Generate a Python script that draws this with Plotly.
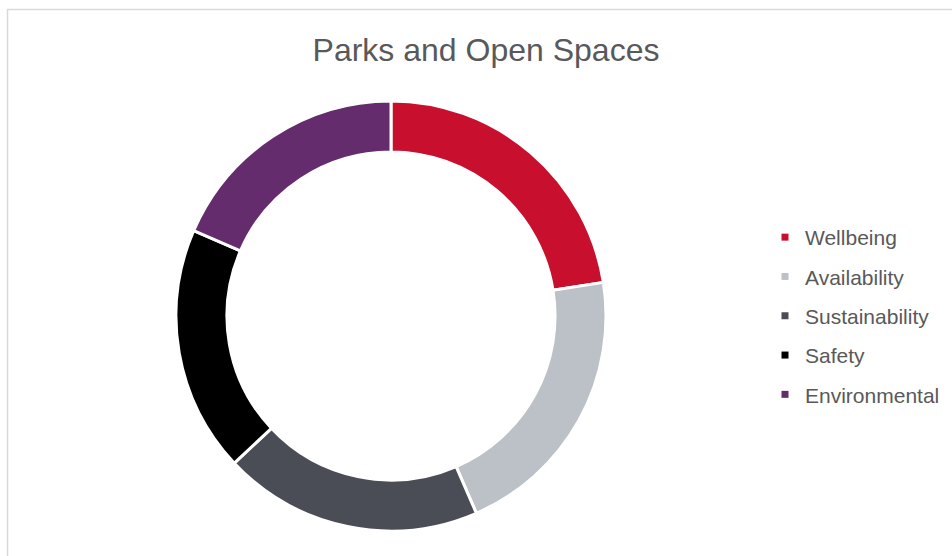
import plotly.graph_objects as go

# Survey themes and response counts
categories = ["Wellbeing", "Availability", "Sustainability", "Safety", "Environmental"]
counts = [45, 42, 39, 37, 37]
colors = ["#C8102E", "#BBC1C6", "#4A4D55", "#000000", "#642C6C"]

W, H = 952, 556

fig = go.Figure()

fig.add_trace(go.Pie(
    labels=categories,
    values=counts,
    hole=0.763,
    sort=False,
    direction="clockwise",
    rotation=0,
    marker=dict(colors=colors, line=dict(color="white", width=3)),
    textinfo="none",
    hoverinfo="label+value+percent",
    showlegend=False,
    domain=dict(x=[176 / W, 606 / W], y=[(H - 531) / H, (H - 101) / H]),
))

# Legend entries with small square swatches
for name, col in zip(categories, colors):
    fig.add_trace(go.Scatter(
        x=[None], y=[None], mode="markers", name=name, legendgroup=name,
        marker=dict(symbol="square", size=7, color=col),
        hoverinfo="skip",
    ))

fig.update_layout(
    width=W, height=H,
    margin=dict(l=0, r=0, t=0, b=0),
    paper_bgcolor="white",
    plot_bgcolor="white",
    font=dict(family="Liberation Sans, Arial, sans-serif", color="#595959"),
    title=dict(
        text="Parks and Open Spaces",
        font=dict(size=32, color="#595959"),
        x=486 / W, xanchor="center",
        y=1 - 50 / H, yanchor="middle",
    ),
    xaxis=dict(visible=False),
    yaxis=dict(visible=False),
    legend=dict(
        x=765 / W, xanchor="left",
        y=1 - 316 / H, yanchor="middle",
        font=dict(size=21, color="#595959"),
        tracegroupgap=9,
        bgcolor="rgba(0,0,0,0)",
    ),
    shapes=[dict(
        type="rect", xref="paper", yref="paper",
        x0=7.5 / W, x1=1.02, y0=-0.02, y1=1 - 9.5 / H,
        line=dict(color="#D9D9D9", width=1.5),
        fillcolor="rgba(0,0,0,0)", layer="below",
    )],
)

fig.write_html("out.html")
